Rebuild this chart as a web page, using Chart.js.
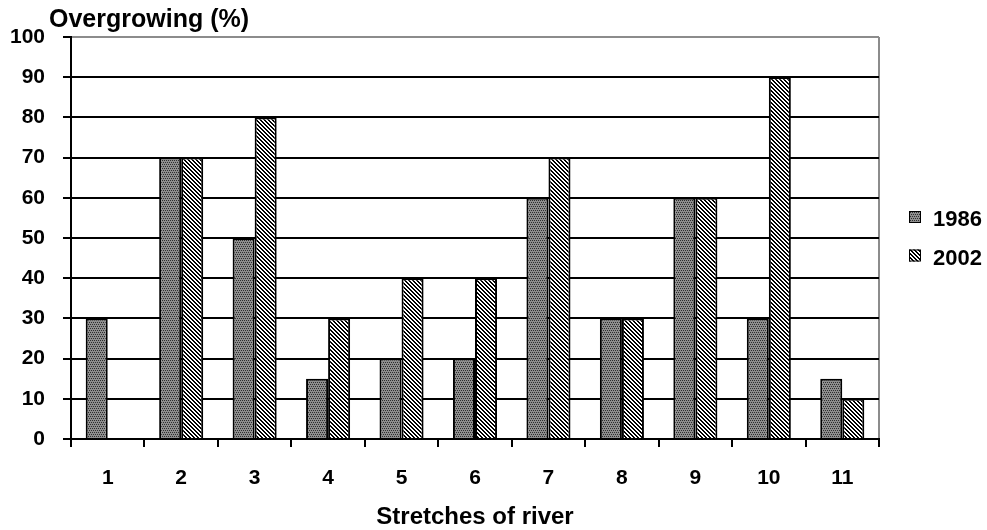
<!DOCTYPE html>
<html>
<head>
<meta charset="utf-8">
<script src="https://cdn.jsdelivr.net/npm/chart.js@4.4.0/dist/chart.umd.min.js"></script>
<style>
  html, body { margin: 0; padding: 0; background: #fff; }
  #wrap { width: 987px; height: 530px; }
</style>
</head>
<body>
<div id="wrap"><canvas id="c" width="987" height="530"></canvas></div>
<script>
// River stretches and the share overgrown in each survey year
const categories = ['1', '2', '3', '4', '5', '6', '7', '8', '9', '10', '11'];
const series1986 = [30, 70, 50, 15, 20, 20, 60, 30, 60, 30, 15];
const series2002 = [null, 70, 80, 30, 40, 40, 70, 30, 60, 90, 10];
const seriesNames = ['1986', '2002'];
const yMin = 0, yMax = 100, yStep = 10;
const yTitle = 'Overgrowing (%)';
const xTitle = 'Stretches of river';

const FONT = '"Liberation Sans", Arial, Helvetica, sans-serif';

// Grey stipple fill
function stipplePattern(ctx) {
  const c = document.createElement('canvas');
  c.width = 4; c.height = 4;
  const g = c.getContext('2d');
  g.fillStyle = '#8e8e8e';
  g.fillRect(0, 0, 4, 4);
  g.fillStyle = '#2e2e2e';
  [[0, 0], [2, 0], [1, 2], [3, 2]].forEach(([x, y]) => g.fillRect(x, y, 1, 1));
  return ctx.createPattern(c, 'repeat');
}

// Black/white diagonal hatch running top-left to bottom-right
function hatchPattern(ctx) {
  const c = document.createElement('canvas');
  c.width = 4; c.height = 4;
  const g = c.getContext('2d');
  g.fillStyle = '#ffffff';
  g.fillRect(0, 0, 4, 4);
  g.fillStyle = '#000000';
  for (let y = 0; y < 4; y++) {
    for (let x = 0; x < 4; x++) {
      if ((((x - y) % 4) + 4) % 4 < 2) g.fillRect(x, y, 1, 1);
    }
  }
  return ctx.createPattern(c, 'repeat');
}

const canvas = document.getElementById('c');
const ctx0 = canvas.getContext('2d');
const fills = [stipplePattern(ctx0), hatchPattern(ctx0)];

// Axis caption at top-left and a legend box on the right
const extras = {
  id: 'extras',
  afterDraw(chart) {
    const ctx = chart.ctx;
    ctx.save();
    ctx.fillStyle = '#000';
    ctx.textBaseline = 'alphabetic';
    ctx.textAlign = 'left';
    ctx.font = 'bold 25px ' + FONT;
    ctx.fillText(yTitle, 49, 27);

    const rows = [{ box: 211, base: 226 }, { box: 249.5, base: 265 }];
    ctx.font = 'bold 22px ' + FONT;
    chart.data.datasets.forEach((ds, i) => {
      const r = rows[i];
      ctx.fillStyle = ds.backgroundColor;
      ctx.fillRect(909, r.box, 12, 12);
      ctx.lineWidth = 1;
      ctx.strokeStyle = '#000';
      ctx.strokeRect(909.5, r.box + 0.5, 11, 11);
      ctx.fillStyle = '#000';
      ctx.fillText(ds.label, 933, r.base);
    });
    ctx.restore();
  }
};

new Chart(canvas, {
  type: 'bar',
  data: {
    labels: categories,
    datasets: [
      { label: seriesNames[0], data: series1986, backgroundColor: fills[0] },
      { label: seriesNames[1], data: series2002, backgroundColor: fills[1] }
    ]
  },
  options: {
    responsive: false,
    animation: false,
    devicePixelRatio: 1,
    layout: { padding: { left: 0, top: 37, right: 108, bottom: 0 } },
    datasets: {
      bar: {
        categoryPercentage: 0.6,
        barPercentage: 1,
        borderColor: '#000',
        borderWidth: 2
      }
    },
    plugins: {
      legend: { display: false },
      tooltip: { enabled: false },
      title: { display: false }
    },
    scales: {
      x: {
        grid: {
          offset: true,
          lineWidth: 2,
          color: c => (c.tick ? 'rgba(0,0,0,0)' : '#8c8c8c'),
          tickColor: '#000',
          tickLength: 8,
          tickWidth: 2
        },
        border: { color: '#000', width: 2 },
        ticks: {
          color: '#000',
          maxRotation: 0,
          padding: 19,
          font: { family: FONT, size: 21, weight: 'bold' }
        },
        title: {
          display: true,
          text: xTitle,
          color: '#000',
          padding: { top: 0, bottom: 1 },
          font: { family: FONT, size: 24, weight: 'bold', lineHeight: 1 }
        },
        afterFit: s => { s.height = 91; }
      },
      y: {
        min: yMin,
        max: yMax,
        grid: {
          lineWidth: 2,
          color: c => (c.tick && c.tick.value === yMax ? '#8c8c8c' : '#000'),
          tickColor: '#000',
          tickLength: 8,
          tickWidth: 2
        },
        border: { color: '#000', width: 2 },
        ticks: {
          stepSize: yStep,
          color: '#000',
          padding: 18,
          font: { family: FONT, size: 21, weight: 'bold' }
        },
        afterFit: s => { s.width = 71; }
      }
    }
  },
  plugins: [extras]
});
</script>
</body>
</html>
